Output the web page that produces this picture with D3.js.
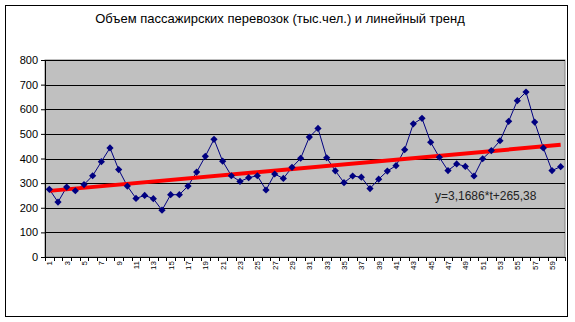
<!DOCTYPE html>
<html>
<head>
<meta charset="utf-8">
<script src="https://cdn.jsdelivr.net/npm/d3@7"></script>
<style>
  body { margin: 0; background: #fff; }
  svg { display: block; font-family: "Liberation Sans", Arial, sans-serif; }
</style>
</head>
<body>
<svg width="575" height="322"></svg>
<script>
// passenger volume, thousand people, periods 1..60
var periods = d3.range(1, 61);
var volume = [275, 223, 284, 269, 294, 330, 387, 443, 355, 288,
              238, 250, 237, 190, 253, 253, 288, 345, 409, 478,
              389, 330, 307, 322, 330, 272, 337, 319, 364, 401,
              487, 522, 403, 350, 302, 329, 324, 278, 316, 349,
              371, 436, 541, 563, 466, 405, 351, 378, 368, 329,
              399, 432, 472, 551, 635, 670, 548, 443, 351, 367];
// linear trend endpoints (y = 3,1686*t + 265,38)
var trendT = [1, 60];
var trendY = [268.5, 455.5];
var yTicks = [0, 100, 200, 300, 400, 500, 600, 700, 800];
var title = "Объем пассажирских перевозок (тыс.чел.) и линейный тренд";
var equation = "y=3,1686*t+265,38";

var svg = d3.select("svg");

// chart frame
svg.append("rect")
    .attr("x", 5.5).attr("y", 5.5)
    .attr("width", 562).attr("height", 311)
    .attr("fill", "#fff")
    .attr("stroke", "#000");

svg.append("text")
    .attr("x", 280).attr("y", 23)
    .attr("text-anchor", "middle")
    .attr("font-size", 13)
    .text(title);

var margin = {top: 60, right: 10, bottom: 65, left: 45},
    width = 575 - margin.left - margin.right,
    height = 322 - margin.top - margin.bottom;

var g = svg.append("g")
    .attr("transform", "translate(" + margin.left + "," + margin.top + ")");

var x = d3.scaleBand().domain(periods).range([0, width]);
var y = d3.scaleLinear().domain([0, 800]).range([height, 0]);

// plot area
g.append("rect")
    .attr("width", width).attr("height", height)
    .attr("fill", "#c0c0c0")
    .attr("stroke", "#808080");

// grid lines
g.selectAll(".grid")
    .data(yTicks.slice(1))
    .enter().append("line")
    .attr("x1", 0).attr("x2", width)
    .attr("y1", function(d) { return Math.round(y(d)) + 0.5; })
    .attr("y2", function(d) { return Math.round(y(d)) + 0.5; })
    .attr("stroke", "#000");

// y axis
var yAxis = g.append("g")
    .call(d3.axisLeft(y).tickValues(yTicks).tickSize(4).tickPadding(3));
yAxis.select(".domain").attr("stroke", "#000");
yAxis.selectAll("text").attr("font-size", 11).attr("fill", "#000");

// x axis: ticks at category boundaries, labels on odd periods
var xAxis = g.append("g").attr("transform", "translate(0," + height + ")");
xAxis.append("line")
    .attr("x1", 0).attr("x2", width)
    .attr("y1", 0.5).attr("y2", 0.5)
    .attr("stroke", "#000");
xAxis.selectAll(".xt")
    .data(d3.range(0, 61))
    .enter().append("line")
    .attr("x1", function(i) { return Math.round(i * x.bandwidth()) + 0.5; })
    .attr("x2", function(i) { return Math.round(i * x.bandwidth()) + 0.5; })
    .attr("y1", 0).attr("y2", 4)
    .attr("stroke", "#000");
xAxis.selectAll(".xl")
    .data(periods.filter(function(d) { return d % 2 === 1; }))
    .enter().append("text")
    .attr("transform", function(d) {
        return "translate(" + (x(d) + x.bandwidth() / 2 + 3) + ",4) rotate(-90)";
    })
    .attr("text-anchor", "end")
    .attr("font-size", 8)
    .text(function(d) { return d; });

// data line
var line = d3.line()
    .x(function(d, i) { return x(periods[i]) + x.bandwidth() / 2; })
    .y(function(d) { return y(d); });

g.append("path")
    .datum(volume)
    .attr("d", line)
    .attr("fill", "none")
    .attr("stroke", "#000080")
    .attr("stroke-width", 1);

// trend line
g.append("path")
    .datum(trendY)
    .attr("d", d3.line()
        .x(function(d, i) { return x(trendT[i]) + x.bandwidth() / 2; })
        .y(function(d) { return y(d); }))
    .attr("stroke", "#ff0000")
    .attr("stroke-width", 4);

// markers: square diamonds
g.selectAll(".pt")
    .data(volume)
    .enter().append("path")
    .attr("transform", function(d, i) {
        return "translate(" + (x(periods[i]) + x.bandwidth() / 2) + "," + y(d) + ") rotate(45)";
    })
    .attr("d", d3.symbol().type(d3.symbolSquare).size(26))
    .attr("fill", "#000080");

g.append("text")
    .attr("x", 390).attr("y", 140)
    .attr("font-size", 12)
    .attr("fill", "#222")
    .text(equation);
</script>
</body>
</html>
